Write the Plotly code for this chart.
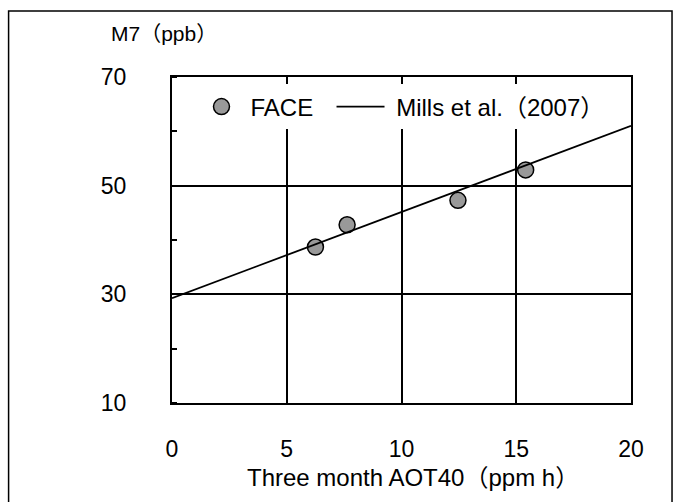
import plotly.graph_objects as go

# Data
face_x = [6.25, 7.63, 12.46, 15.41]
face_y = [38.7, 42.8, 47.3, 52.9]
mills_x = [0, 20]
mills_y = [29.3, 61.0]

x_ticks = [0, 5, 10, 15, 20]
y_ticks = [10, 30, 50, 70]

FONT = "Liberation Sans, Noto Sans CJK JP, sans-serif"

fig = go.Figure()
fig.add_trace(go.Scatter(
    x=face_x, y=face_y, mode="markers", name="FACE\u00a0\u00a0",
    marker=dict(size=16, color="#999999", line=dict(color="black", width=1.5)),
))
fig.add_trace(go.Scatter(
    x=mills_x, y=mills_y, mode="lines", name="\u00a0Mills et al.（2007）",
    line=dict(color="black", width=1.8),
))

PX0, PX1, PY0, PY1 = 172.3, 631.0, 403.3, 77.0

def px(x):
    return (x - PX0) / (PX1 - PX0)

def py(y):
    return (PY0 - y) / (PY0 - PY1)

fig.update_layout(
    width=680, height=502,
    margin=dict(l=172, r=49, t=77, b=99),
    paper_bgcolor="white", plot_bgcolor="white",
    font=dict(family=FONT, size=23, color="black"),
    showlegend=True,
    legend=dict(
        orientation="h", x=0.049 - 2 / 458.7, xanchor="left", y=0.908, yanchor="middle",
        bgcolor="white", borderwidth=0, font=dict(size=24),
        itemwidth=48, tracegroupgap=0,
    ),
    xaxis=dict(
        range=[0, 20], tickvals=x_ticks, ticktext=[str(v) for v in x_ticks],
        showgrid=True, gridcolor="black", gridwidth=1.5,
        showline=True, linecolor="black", linewidth=2, mirror=True,
        ticks="", ticklabelstandoff=24, zeroline=False,
    ),
    yaxis=dict(
        range=[10, 70], tickvals=y_ticks, ticktext=[str(v) for v in y_ticks],
        showgrid=True, gridcolor="black", gridwidth=1.5,
        showline=True, linecolor="black", linewidth=2, mirror=True,
        ticks="", ticklabelstandoff=39, zeroline=False,
        minor=dict(dtick=10, tick0=10, ticks="inside", ticklen=5, tickcolor="black", tickwidth=1.5, showgrid=False),
    ),
)

fig.add_annotation(
    text="M7（ppb）", xref="paper", yref="paper",
    x=px(109), y=py(33),
    xanchor="left", yanchor="middle", showarrow=False,
    font=dict(size=21, family=FONT),
)

fig.add_annotation(
    text="Three month AOT40（ppm h）", xref="paper", yref="paper",
    x=px(413), y=py(478),
    xanchor="center", yanchor="middle", showarrow=False,
    font=dict(size=24, family=FONT),
)

fig.add_shape(
    type="rect", xref="paper", yref="paper",
    x0=px(9), x1=px(672),
    y0=-0.4, y1=py(11),
    line=dict(color="black", width=1.5), fillcolor="rgba(0,0,0,0)", layer="below",
)

fig.write_html("out.html")
